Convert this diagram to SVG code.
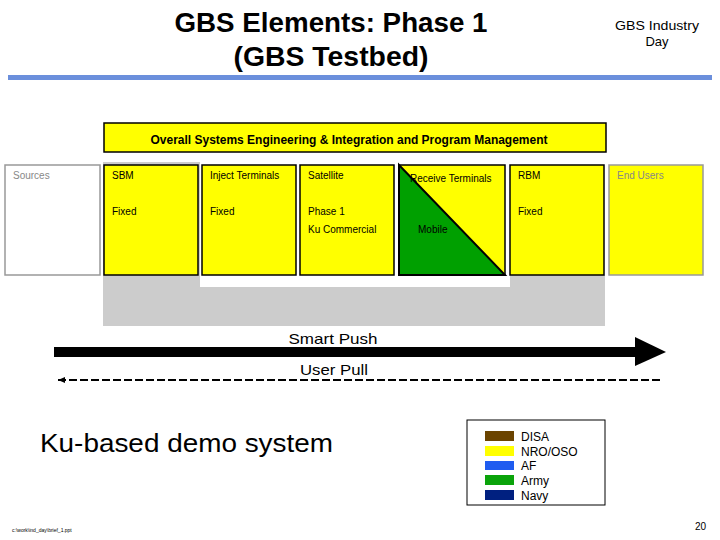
<svg xmlns="http://www.w3.org/2000/svg" width="720" height="540" viewBox="0 0 720 540">
<style>
text{font-family:"Liberation Sans",Arial,sans-serif;}
.box{fill:#ffff00;stroke:#000;stroke-width:1.5;}
.gbox{stroke:#999;stroke-width:1.5;}
.lbl{font-size:10px;fill:#000;}
.glbl{font-size:10px;fill:#888;}
.title{font-size:27px;font-weight:bold;fill:#000;}
.leg{font-size:12px;fill:#000;}
</style>
<defs>
<marker id="sm" markerWidth="8" markerHeight="8" refX="1" refY="4" orient="auto" markerUnits="userSpaceOnUse">
<path d="M8,1 L1,4 L8,7 Z" fill="#000"/>
</marker>
</defs>
<rect width="720" height="540" fill="#fff"/>
<g id="title">
<text class="title" x="331" y="32" text-anchor="middle" textLength="313" lengthAdjust="spacingAndGlyphs">GBS Elements: Phase 1</text>
<text class="title" x="331" y="66" text-anchor="middle" textLength="195" lengthAdjust="spacingAndGlyphs">(GBS Testbed)</text>
<text x="657" y="30" text-anchor="middle" font-size="13" textLength="84" lengthAdjust="spacingAndGlyphs">GBS Industry</text>
<text x="657" y="46" text-anchor="middle" font-size="13">Day</text>
</g>
<rect x="8" y="75" width="704" height="5" fill="#6b8fdc"/>
<g id="background">
<rect x="103" y="162" width="502" height="164" fill="#cccccc"/>
<rect x="200" y="162" width="310" height="125" fill="#fff"/>
<rect x="505" y="162" width="100" height="113" fill="#fff"/>
</g>
<g id="banner">
<rect class="box" x="104" y="123" width="502" height="29"/>
<text x="349" y="144" text-anchor="middle" font-size="12" font-weight="bold" textLength="397" lengthAdjust="spacingAndGlyphs">Overall Systems Engineering &amp; Integration and Program Management</text>
</g>
<g id="sources">
<rect class="gbox" x="5" y="165" width="95" height="110" fill="#fff"/>
<text class="glbl" x="13" y="179">Sources</text>
</g>
<g id="sbm">
<rect class="box" x="104" y="165" width="94" height="110"/>
<text class="lbl" x="112" y="179">SBM</text>
<text class="lbl" x="112" y="215">Fixed</text>
</g>
<g id="inject">
<rect class="box" x="202" y="165" width="94" height="110"/>
<text class="lbl" x="210" y="179">Inject Terminals</text>
<text class="lbl" x="210" y="215">Fixed</text>
</g>
<g id="satellite">
<rect class="box" x="300" y="165" width="94" height="110"/>
<text class="lbl" x="308" y="179">Satellite</text>
<text class="lbl" x="308" y="215">Phase 1</text>
<text class="lbl" x="308" y="233">Ku Commercial</text>
</g>
<g id="receive">
<rect class="box" x="399" y="165" width="106" height="110"/>
<polygon points="399,165 505,275 399,275" fill="#00a000" stroke="#000" stroke-width="2"/>
<text class="lbl" x="410" y="182">Receive Terminals</text>
<text class="lbl" x="418" y="233">Mobile</text>
</g>
<g id="rbm">
<rect class="box" x="510" y="165" width="94" height="110"/>
<text class="lbl" x="518" y="179">RBM</text>
<text class="lbl" x="518" y="215">Fixed</text>
</g>
<g id="endusers">
<rect class="gbox" x="609" y="165" width="94" height="110" fill="#ffff00"/>
<text class="glbl" x="617" y="179">End Users</text>
</g>
<g id="connectors">
<rect x="54" y="347" width="582" height="10" fill="#000"/>
<polygon points="635,337 666,352 635,366" fill="#000"/>
<line x1="58" y1="380" x2="662" y2="380" stroke="#000" stroke-width="2" stroke-dasharray="8,3" marker-start="url(#sm)"/>
</g>
<text x="333" y="344" text-anchor="middle" font-size="15" textLength="89" lengthAdjust="spacingAndGlyphs">Smart Push</text>
<text x="334" y="375" text-anchor="middle" font-size="15" textLength="68" lengthAdjust="spacingAndGlyphs">User Pull</text>
<text x="40" y="452" font-size="26" textLength="293" lengthAdjust="spacingAndGlyphs">Ku-based demo system</text>
<g id="legend">
<rect x="467" y="420" width="138" height="85" fill="#fff" stroke="#000" stroke-width="1"/>
<rect x="485" y="431" width="29" height="10" fill="#6b4400"/>
<rect x="485" y="446" width="29" height="10" fill="#ffff00"/>
<rect x="485" y="461" width="29" height="9" fill="#1f5cf0"/>
<rect x="485" y="475" width="29" height="10" fill="#0aa30a"/>
<rect x="485" y="490" width="29" height="10" fill="#002080"/>
<text class="leg" x="521" y="441">DISA</text>
<text class="leg" x="521" y="456">NRO/OSO</text>
<text class="leg" x="521" y="470">AF</text>
<text class="leg" x="521" y="485">Army</text>
<text class="leg" x="521" y="500">Navy</text>
</g>
<text x="12" y="532" font-size="5">c:\work\ind_day\brief_1.ppt</text>
<text x="706" y="530" text-anchor="end" font-size="10">20</text>
</svg>
